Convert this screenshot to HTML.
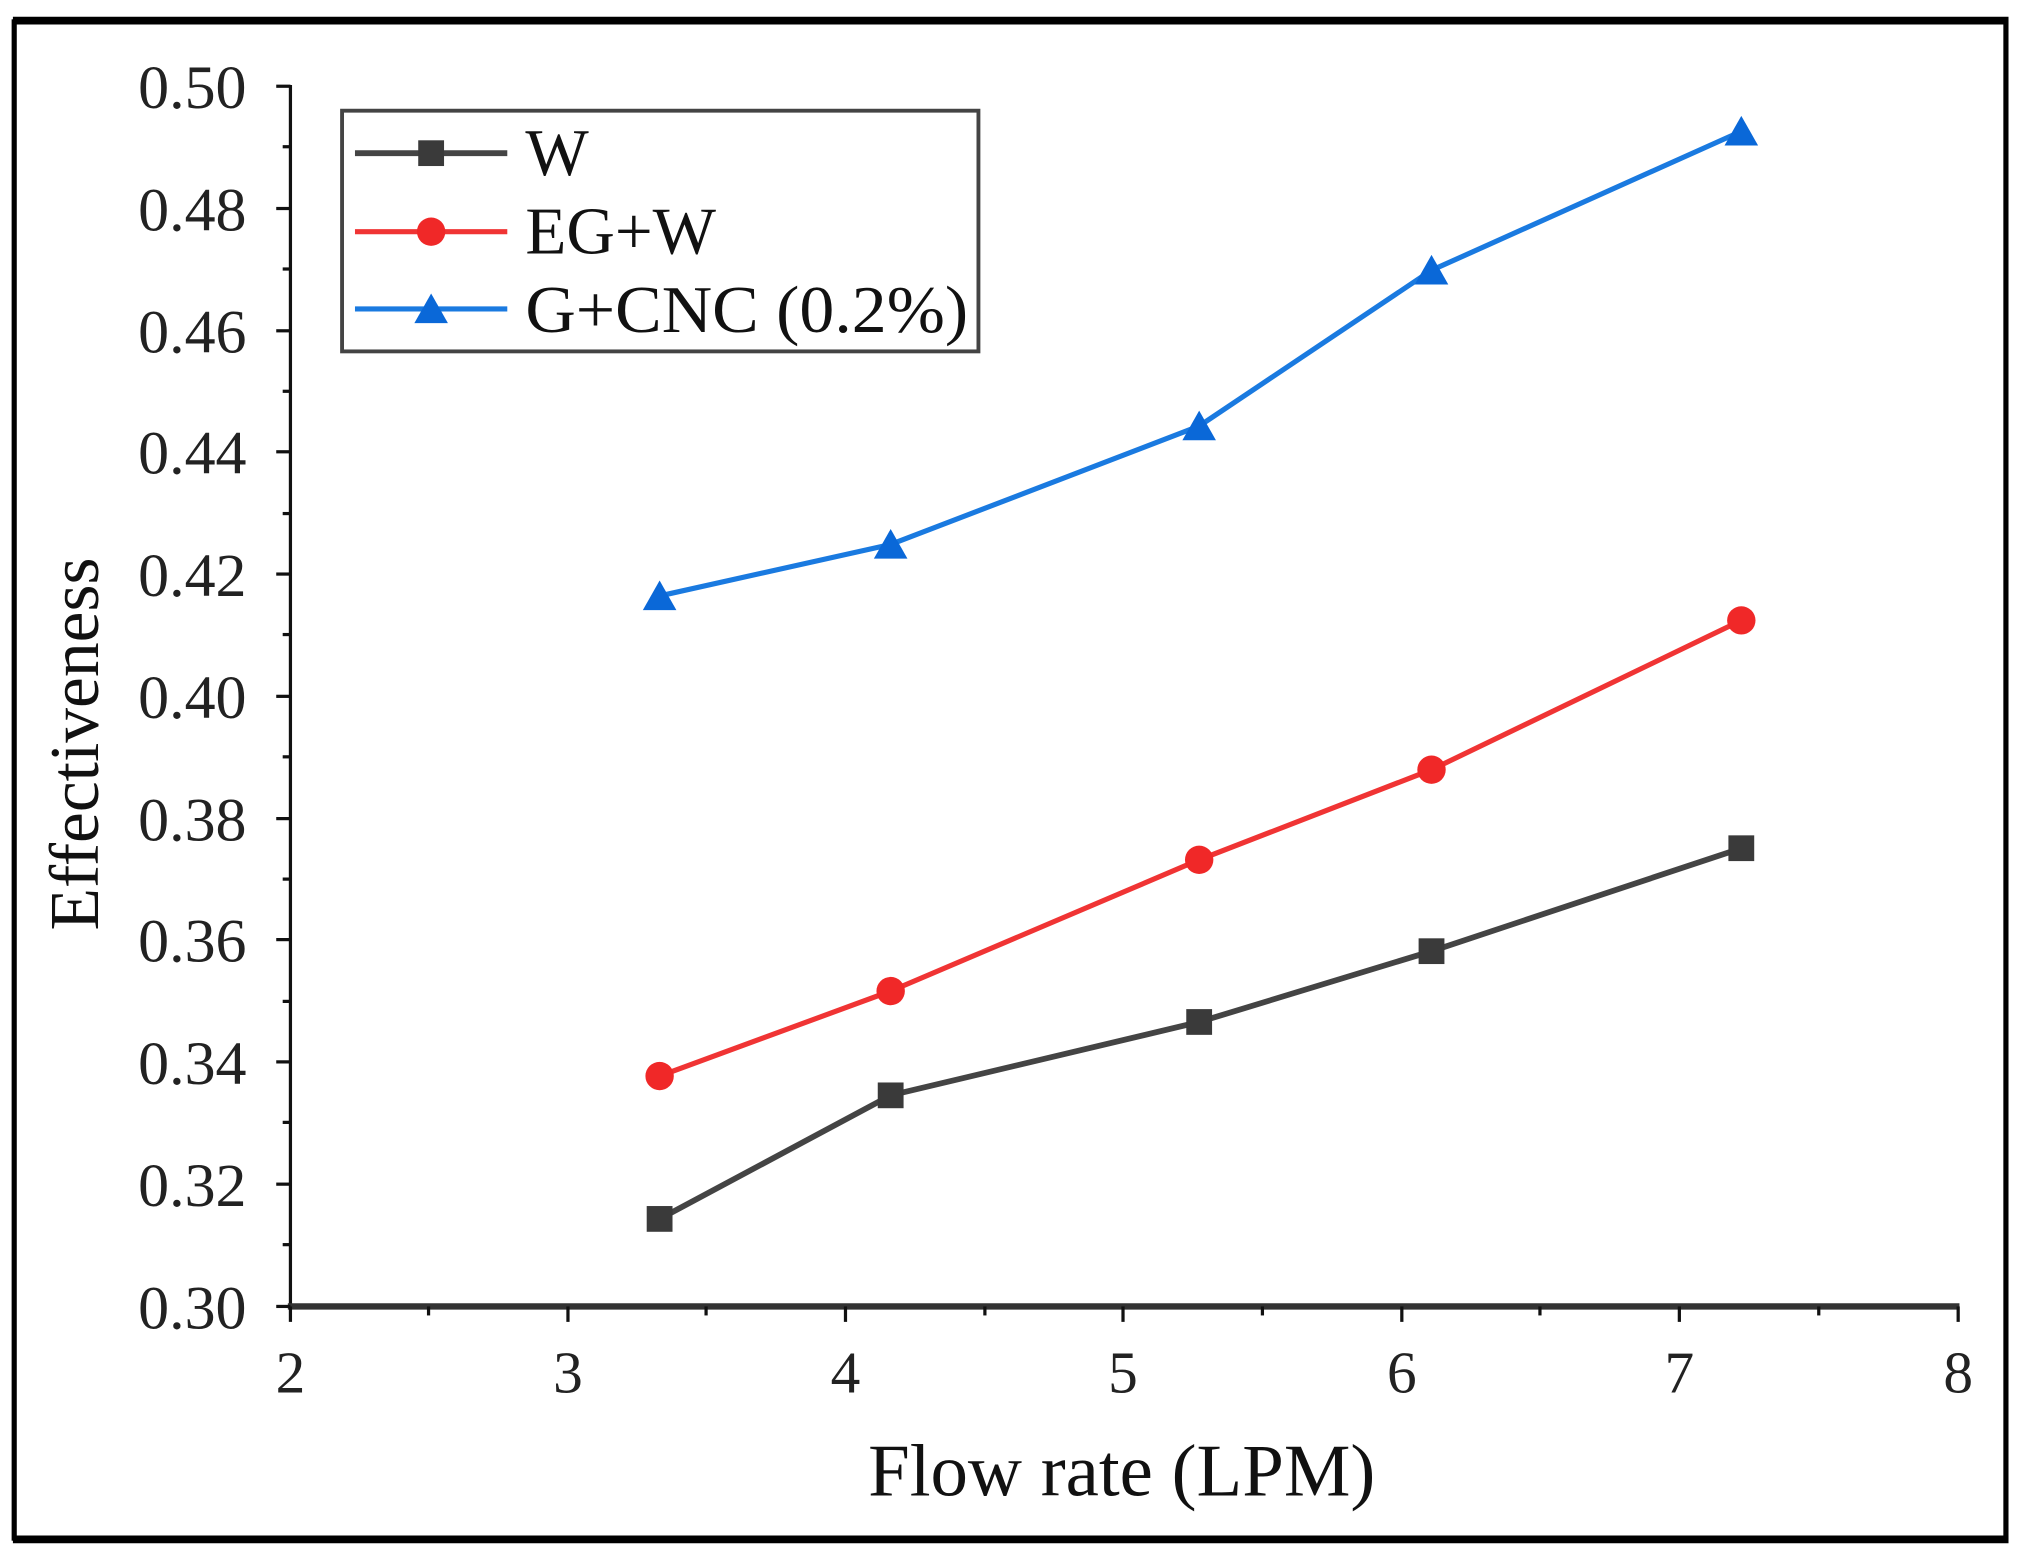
<!DOCTYPE html>
<html><head><meta charset="utf-8"><style>html,body{margin:0;padding:0;background:#fff}svg{display:block}</style></head>
<body>
<svg width="2024" height="1560" viewBox="0 0 1568 1212" preserveAspectRatio="none" xmlns="http://www.w3.org/2000/svg" font-family="Liberation Serif, serif">
<rect x="0" y="0" width="1568" height="1212" fill="#fff"/>
<rect x="11" y="17" width="1543" height="1178" fill="none" stroke="#000" stroke-width="4"/>
<line x1="10" y1="16" x2="1556" y2="16" stroke="#000" stroke-width="6"/>
<line x1="10" y1="1196" x2="1556" y2="1196" stroke="#000" stroke-width="6"/>
<!-- axes -->
<line x1="225" y1="66" x2="225" y2="1016" stroke="#111" stroke-width="2.5"/>
<line x1="223" y1="1015" x2="1518" y2="1015" stroke="#333" stroke-width="5"/>
<g stroke="#111" stroke-width="2.5">
<line x1="214" y1="67" x2="225" y2="67"/><line x1="214" y1="162" x2="225" y2="162"/><line x1="214" y1="257" x2="225" y2="257"/><line x1="214" y1="351" x2="225" y2="351"/><line x1="214" y1="446" x2="225" y2="446"/><line x1="214" y1="541" x2="225" y2="541"/><line x1="214" y1="636" x2="225" y2="636"/><line x1="214" y1="730" x2="225" y2="730"/><line x1="214" y1="825" x2="225" y2="825"/><line x1="214" y1="920" x2="225" y2="920"/><line x1="214" y1="1015" x2="225" y2="1015"/>
<line x1="219" y1="114" x2="225" y2="114"/><line x1="219" y1="209" x2="225" y2="209"/><line x1="219" y1="304" x2="225" y2="304"/><line x1="219" y1="399" x2="225" y2="399"/><line x1="219" y1="493" x2="225" y2="493"/><line x1="219" y1="588" x2="225" y2="588"/><line x1="219" y1="683" x2="225" y2="683"/><line x1="219" y1="778" x2="225" y2="778"/><line x1="219" y1="872" x2="225" y2="872"/><line x1="219" y1="967" x2="225" y2="967"/>
<line x1="225" y1="1015" x2="225" y2="1027"/><line x1="440" y1="1015" x2="440" y2="1027"/><line x1="655" y1="1015" x2="655" y2="1027"/><line x1="870" y1="1015" x2="870" y2="1027"/><line x1="1086" y1="1015" x2="1086" y2="1027"/><line x1="1301" y1="1015" x2="1301" y2="1027"/><line x1="1517" y1="1015" x2="1517" y2="1027"/>
<line x1="332" y1="1015" x2="332" y2="1022"/><line x1="547" y1="1015" x2="547" y2="1022"/><line x1="763" y1="1015" x2="763" y2="1022"/><line x1="978" y1="1015" x2="978" y2="1022"/><line x1="1193" y1="1015" x2="1193" y2="1022"/><line x1="1409" y1="1015" x2="1409" y2="1022"/>
</g>
<g font-size="48" fill="#222" text-anchor="end">
<text x="191" y="84">0.50</text><text x="191" y="179">0.48</text><text x="191" y="274">0.46</text><text x="191" y="368">0.44</text><text x="191" y="463">0.42</text><text x="191" y="558">0.40</text><text x="191" y="653">0.38</text><text x="191" y="747">0.36</text><text x="191" y="842">0.34</text><text x="191" y="937">0.32</text><text x="191" y="1032">0.30</text>
</g>
<g font-size="46" fill="#222" text-anchor="middle">
<text x="225" y="1082">2</text><text x="440" y="1082">3</text><text x="655" y="1082">4</text><text x="870" y="1082">5</text><text x="1086" y="1082">6</text><text x="1301" y="1082">7</text><text x="1517" y="1082">8</text>
</g>
<text x="869" y="1162" font-size="58" fill="#111" text-anchor="middle">Flow rate (LPM)</text>
<text transform="translate(76,578) rotate(-90)" font-size="54" fill="#111" text-anchor="middle">Effectiveness</text>
<!-- series -->
<polyline points="511,947 690,851 929,794 1109,739 1349,659" fill="none" stroke="#444" stroke-width="4.5"/>
<polyline points="511,836 690,770 929,668 1109,598 1349,482" fill="none" stroke="#f03434" stroke-width="4"/>
<polyline points="511,463 690,423 929,331 1109,210 1349,102" fill="none" stroke="#1a7ae0" stroke-width="4"/>
<g fill="#3a3a3a">
<rect x="501" y="937" width="20" height="20"/><rect x="680" y="841" width="20" height="20"/><rect x="919" y="784" width="20" height="20"/><rect x="1099" y="729" width="20" height="20"/><rect x="1339" y="649" width="20" height="20"/>
</g>
<g fill="#f02828">
<circle cx="511" cy="836" r="11"/><circle cx="690" cy="770" r="11"/><circle cx="929" cy="668" r="11"/><circle cx="1109" cy="598" r="11"/><circle cx="1349" cy="482" r="11"/>
</g>
<g fill="#0a68d8">
<polygon points="511,451 498,474 524,474"/><polygon points="690,411 677,434 703,434"/><polygon points="929,319 916,342 942,342"/><polygon points="1109,198 1096,221 1122,221"/><polygon points="1349,90 1336,113 1362,113"/>
</g>
<!-- legend -->
<rect x="265" y="86" width="493" height="187" fill="#fff" stroke="#444" stroke-width="3"/>
<line x1="275" y1="119" x2="393" y2="119" stroke="#444" stroke-width="4.5"/>
<rect x="324" y="109" width="20" height="20" fill="#3a3a3a"/>
<line x1="275" y1="180" x2="393" y2="180" stroke="#f03434" stroke-width="4"/>
<circle cx="334" cy="180" r="11" fill="#f02828"/>
<line x1="275" y1="240" x2="393" y2="240" stroke="#1a7ae0" stroke-width="4"/>
<polygon points="334,228 321,251 347,251" fill="#0a68d8"/>
<g font-size="52" fill="#111">
<text x="407" y="136">W</text><text x="407" y="197">EG+W</text><text x="407" y="258" textLength="343" lengthAdjust="spacingAndGlyphs">G+CNC (0.2%)</text>
</g>
</svg>
</body></html>
